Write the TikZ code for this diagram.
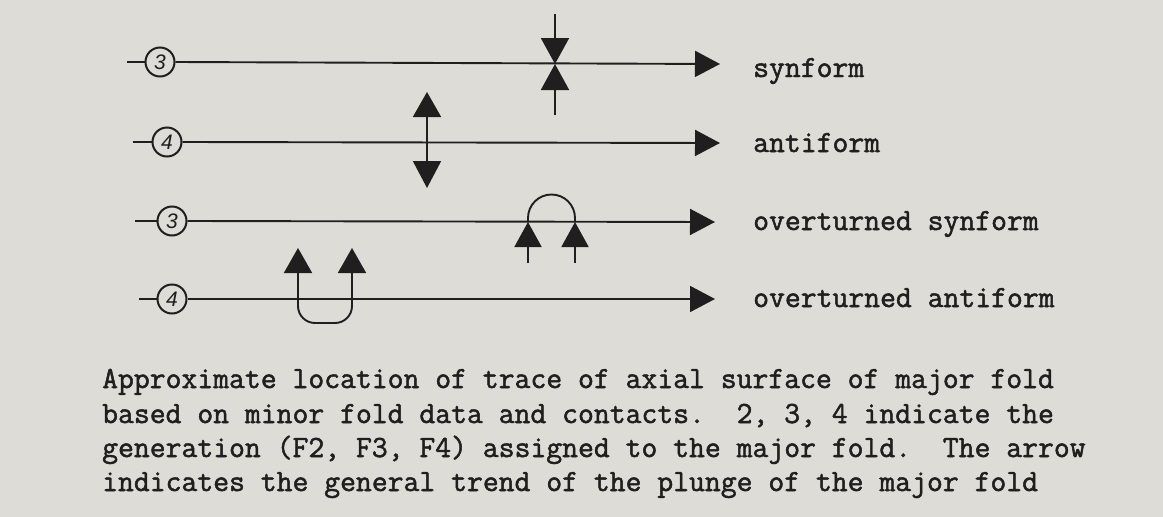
\documentclass[tikz,border=0pt]{standalone}
\usepackage{fontspec}
\usetikzlibrary{arrows.meta}
\newfontfamily\typew{Latin Modern Mono}[RawFeature={embolden=1.6}]
\newfontfamily\handf{Liberation Sans}
\definecolor{paper}{RGB}{222,220,214}
\definecolor{ink}{RGB}{32,30,30}
\tikzset{
  ink line/.style={draw=ink, line width=1.9pt},
  gen/.style={circle, draw=ink, line width=2pt, minimum size=29pt, inner sep=0pt,
    font=\handf\itshape\fontsize{21}{21}\selectfont, text=ink},
  trend/.style={ink line, -{Triangle[length=25pt,width=26pt]}},
  fold tip/.style={ink line, -{Triangle[length=25pt,width=27pt]}},
  label/.style={anchor=base west, inner sep=0pt, text=ink,
    font=\typew\fontsize{30.8}{34}\selectfont\frenchspacing},
}
\begin{document}
\begin{tikzpicture}[x=1pt, y=-1pt]
  \fill[paper] (0,0) rectangle (1163,517);
  \useasboundingbox (0,0) rectangle (1163,517);

  % generation circles and start of each trace
  \node[gen] (g1) at (160,62) {3};
  \node[gen] (g2) at (167,142) {4};
  \node[gen] (g3) at (172,221) {3};
  \node[gen] (g4) at (172,299) {4};
  \coordinate (s1) at (127,62);
  \coordinate (s2) at (133,142);
  \coordinate (s3) at (135,221);
  \coordinate (s4) at (139,299);
  \coordinate (e1) at (720,64);
  \coordinate (e2) at (720,143);
  \coordinate (e3) at (715,222);
  \coordinate (e4) at (715,299);
  \foreach \i in {1,2,3,4} {
    \draw[ink line] (s\i) -- (g\i.west);
    \draw[trend] (g\i.east) -- (e\i);
  }

  % synform
  \coordinate (syn) at (555,64);
  \coordinate (synT) at (555,14);
  \coordinate (synB) at (555,115);
  \draw[ink line, -{Triangle[length=26pt,width=28pt]}] (synT) -- (syn);
  \draw[ink line, -{Triangle[length=26pt,width=28pt]}] (synB) -- (syn);

  % antiform
  \coordinate (antT) at (427,92);
  \coordinate (antB) at (427,188);
  \draw[ink line, {Triangle[length=25pt,width=28pt]}-{Triangle[length=27pt,width=28pt]}] (antT) -- (antB);

  % overturned synform: arch over the trace, two upward tips below it
  \coordinate (os1) at (528,222);
  \coordinate (os2) at (575,222);
  \coordinate (os1b) at (528,263);
  \coordinate (os2b) at (575,263);
  \draw[ink line] (os1) -- (528,218) arc[start angle=180, end angle=0, radius=23.5pt] -- (os2);
  \draw[fold tip] (os1b) -- (os1);
  \draw[fold tip] (os2b) -- (os2);

  % overturned antiform: U under the trace, tips above it
  \coordinate (oa1) at (298,248);
  \coordinate (oa2) at (352,248);
  \draw[ink line, rounded corners=17pt, {Triangle[length=25pt,width=28pt]}-{Triangle[length=25pt,width=28pt]}]
    (oa1) -- (298,323) -- (352,323) -- (oa2);

  % legend texts
  \node[label] (t1) at (753,77) {synform};
  \node[label] (t2) at (753,152) {antiform};
  \node[label] (t3) at (753,230) {overturned synform};
  \node[label] (t4) at (753,307) {overturned antiform};

  % caption
  \node[label] (c1) at (102,388) {Approximate location of trace of axial surface of major fold};
  \node[label] (c2) at (102,423) {based on minor fold data and contacts.\space\space 2, 3, 4 indicate the};
  \node[label] (c3) at (102,457) {generation (F2, F3, F4) assigned to the major fold.\space\space The arrow};
  \node[label] (c4) at (102,491) {indicates the general trend of the plunge of the major fold};
\end{tikzpicture}
\end{document}
